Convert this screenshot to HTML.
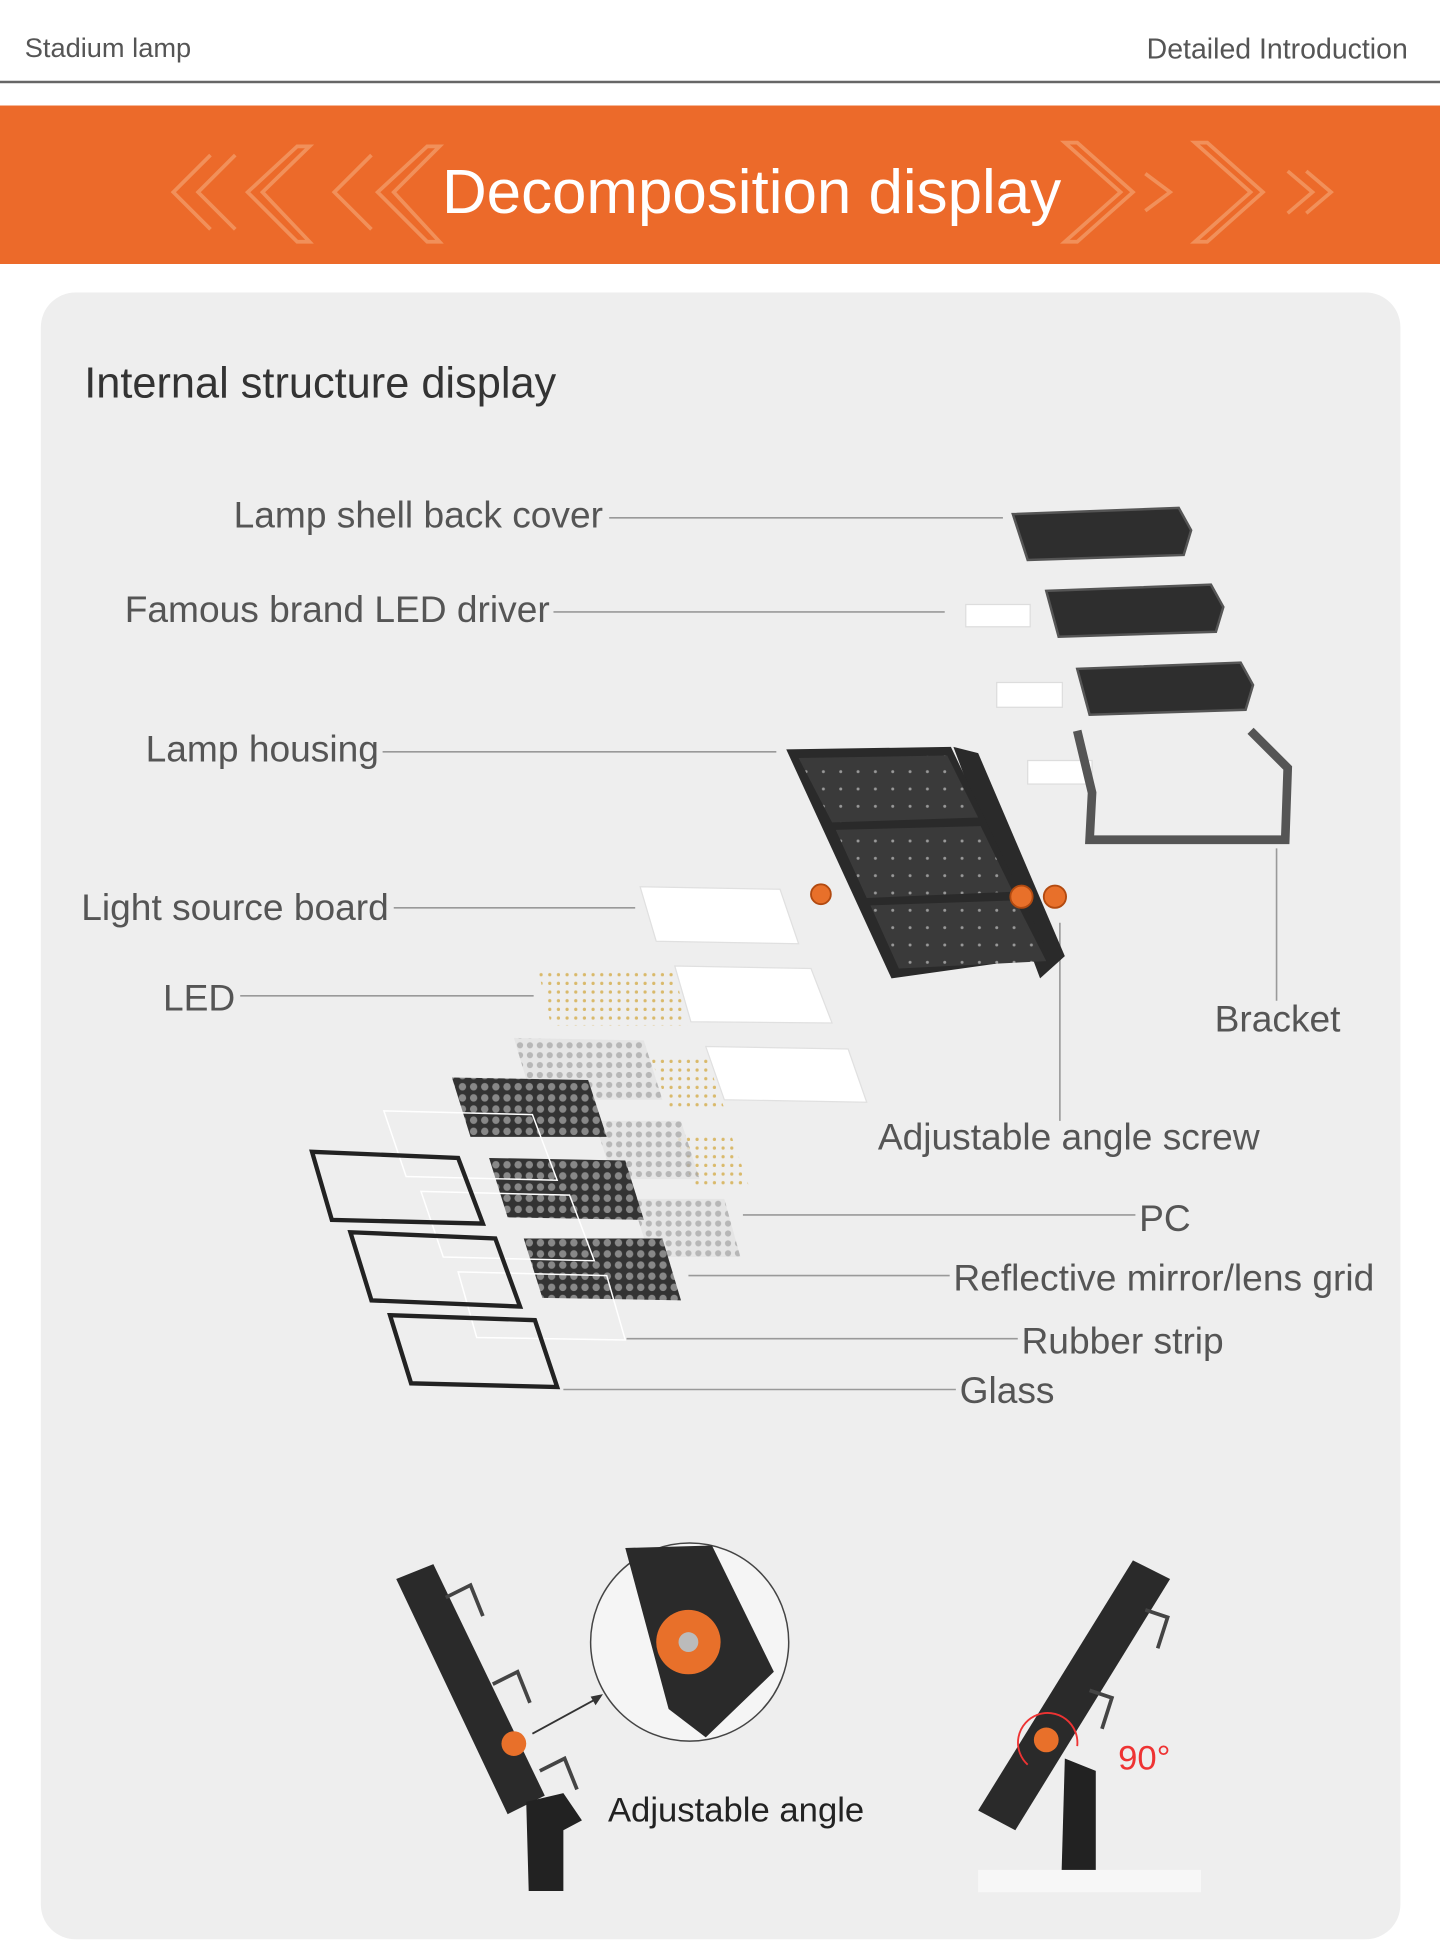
<!DOCTYPE html>
<html><head><meta charset="utf-8"><style>html,body{margin:0;padding:0;background:#fff}svg{display:block}</style></head>
<body>
<svg width="1440" height="1942" viewBox="0 0 1163 1568" xmlns="http://www.w3.org/2000/svg" font-family="Liberation Sans, sans-serif">
<defs>
<pattern id="led" width="7" height="7" patternUnits="userSpaceOnUse"><circle cx="3" cy="3" r="1.3" fill="#d9b96a"/></pattern>
<pattern id="pc" width="8" height="8" patternUnits="userSpaceOnUse"><rect width="8" height="8" fill="#e4e4e4"/><circle cx="4" cy="4" r="2.5" fill="#aaa"/></pattern>
<pattern id="lens" width="9" height="9" patternUnits="userSpaceOnUse"><rect width="9" height="9" fill="#333"/><circle cx="4.5" cy="4.5" r="3" fill="#888"/></pattern>
<pattern id="dots" width="14" height="14" patternUnits="userSpaceOnUse"><rect width="14" height="14" fill="#3a3a3a"/><circle cx="7" cy="7" r="1.2" fill="#999"/></pattern>
</defs>
<rect width="1163" height="1568" fill="#fff"/>
<text x="20" y="46" font-size="22" fill="#555">Stadium lamp</text>
<text x="1137" y="47" font-size="23" fill="#555" text-anchor="end">Detailed Introduction</text>
<rect x="0" y="65" width="1163" height="2" fill="#666"/>
<rect x="0" y="85" width="1163" height="128" fill="#ec6a2a"/>
<g fill="none" stroke="#f39a66" stroke-width="3" opacity="0.8">
<path d="M170 125 L140 155 L170 185 M190 125 L160 155 L190 185"/>
<path d="M240 118 L200 155 L240 195 L250 195 L212 155 L250 118 Z"/>
<path d="M300 125 L270 155 L300 185"/>
<path d="M345 118 L305 155 L345 195 L355 195 L318 155 L355 118 Z"/>
<path d="M860 115 L905 155 L860 195 L870 195 L915 155 L870 115 Z"/>
<path d="M925 140 L945 155 L925 170"/>
<path d="M965 115 L1010 155 L965 195 L975 195 L1020 155 L975 115 Z"/>
<path d="M1040 138 L1060 155 L1040 172 M1055 138 L1075 155 L1055 172"/>
</g>
<text x="607" y="172" font-size="50" fill="#fff" text-anchor="middle">Decomposition display</text>
<rect x="33" y="236" width="1098" height="1330" rx="28" fill="#eeeeee"/>
<text x="68" y="321" font-size="35" fill="#333">Internal structure display</text>
<g font-size="30" fill="#555">
<text x="487" y="426" text-anchor="end">Lamp shell back cover</text>
<text x="444" y="502" text-anchor="end">Famous brand LED driver</text>
<text x="306" y="615" text-anchor="end">Lamp housing</text>
<text x="314" y="743" text-anchor="end">Light source board</text>
<text x="190" y="816" text-anchor="end">LED</text>
<text x="981" y="833">Bracket</text>
<text x="709" y="928">Adjustable angle screw</text>
<text x="920" y="994">PC</text>
<text x="770" y="1042">Reflective mirror/lens grid</text>
<text x="825" y="1093">Rubber strip</text>
<text x="775" y="1133">Glass</text>
</g>
<g stroke="#999" stroke-width="1.3" fill="none">
<path d="M492 418H810M447 494H763M309 607H627M318 733H513M194 804H431M1031 685V808M856 745V905M600 981H917M556 1030H767M506 1081H822M455 1122H772"/>
</g>
<g fill="#2e2e2e" stroke="#555" stroke-width="2">
<polygon points="818,415 952,410 962,428 956,448 830,452"/>
<polygon points="845,477 978,472 988,490 982,510 855,514"/>
<polygon points="870,540 1002,535 1012,553 1006,573 880,577"/>
</g>
<g fill="#fff" stroke="#ddd"><rect x="780" y="488" width="52" height="18"/><rect x="805" y="551" width="53" height="20"/><rect x="830" y="614" width="52" height="19"/></g>
<path d="M870 590 L882 640 L880 678 L1038 678 L1040 620 L1010 590" fill="none" stroke="#555" stroke-width="7"/>
<polygon points="770,603 790,608 860,772 840,790" fill="#2a2a2a"/>
<polygon points="635,605 768,603 848,772 720,790" fill="#2a2a2a"/>
<polygon points="645,612 765,610 790,660 672,664" fill="url(#dots)"/>
<polygon points="675,670 792,667 818,720 700,725" fill="url(#dots)"/>
<polygon points="703,731 820,727 845,776 726,782" fill="url(#dots)"/>
<g fill="#e8702a" stroke="#b24a10" stroke-width="1.5"><circle cx="663" cy="722" r="8"/><circle cx="825" cy="724" r="9"/><circle cx="852" cy="724" r="9"/></g>
<g fill="#fff" stroke="#e0e0e0"><polygon points="517,716 630,718 645,762 530,760"/><polygon points="545,780 655,782 672,826 558,825"/><polygon points="570,845 685,847 700,890 585,888"/></g>
<g fill="url(#led)"><polygon points="435,785 545,785 555,828 445,828"/><polygon points="525,852 570,852 585,895 540,895"/><polygon points="545,915 590,915 605,958 560,958"/></g>
<g fill="url(#pc)" opacity="0.8"><polygon points="415,838 520,840 535,888 430,888"/><polygon points="480,905 550,905 565,952 495,952"/><polygon points="510,968 585,968 598,1015 525,1015"/></g>
<g fill="url(#lens)"><polygon points="365,870 475,872 490,918 380,918"/><polygon points="395,935 505,937 520,985 410,983"/><polygon points="423,1000 535,1000 550,1050 438,1048"/></g>
<g fill="none" stroke="#fff" stroke-width="1.2"><polygon points="310,897 430,900 450,953 328,950"/><polygon points="340,962 460,965 480,1018 358,1015"/><polygon points="370,1027 490,1030 505,1082 385,1080"/></g>
<g fill="none" stroke="#222" stroke-width="3.5"><polygon points="252,930 370,935 390,988 268,985"/><polygon points="283,995 400,1000 420,1055 300,1050"/><polygon points="315,1062 432,1066 450,1120 332,1117"/></g>
<polygon points="320,1275 350,1263 440,1450 410,1465" fill="#2a2a2a"/>
<g fill="none" stroke="#444" stroke-width="3"><path d="M360 1290 l20 -10 l10 25"/><path d="M398 1360 l20 -10 l10 25"/><path d="M436 1430 l20 -10 l10 25"/></g>
<polygon points="425,1455 455,1448 470,1470 455,1478 455,1527 427,1527" fill="#222"/>
<circle cx="415" cy="1408" r="10" fill="#e8702a"/>
<path d="M430 1400 L485 1370" stroke="#333" stroke-width="1.5"/><path d="M487 1368 l-10 2 l4 7z" fill="#333"/>
<circle cx="557" cy="1326" r="80" fill="#f5f5f5" stroke="#444" stroke-width="1.2"/>
<path d="M505 1250 L575 1248 L625 1350 L570 1403 L540 1380 Z" fill="#2a2a2a"/>
<circle cx="556" cy="1326" r="26" fill="#e8702a"/><circle cx="556" cy="1326" r="8" fill="#bbb"/>
<text x="491" y="1471" font-size="28" fill="#222">Adjustable angle</text>
<polygon points="915,1260 945,1275 820,1478 790,1462" fill="#2a2a2a"/>
<g fill="none" stroke="#444" stroke-width="3"><path d="M925 1300 l18 6 l-8 25"/><path d="M880 1365 l18 6 l-8 25"/></g>
<polygon points="860,1420 885,1430 885,1525 857,1525" fill="#222"/>
<rect x="790" y="1510" width="180" height="18" fill="#f7f7f7"/>
<circle cx="845" cy="1405" r="10" fill="#e8702a"/>
<path d="M830 1425 A24 24 0 1 1 870 1410" fill="none" stroke="#e33" stroke-width="1.5"/>
<text x="903" y="1429" font-size="28" fill="#e33">90°</text>
</svg>
</body></html>
